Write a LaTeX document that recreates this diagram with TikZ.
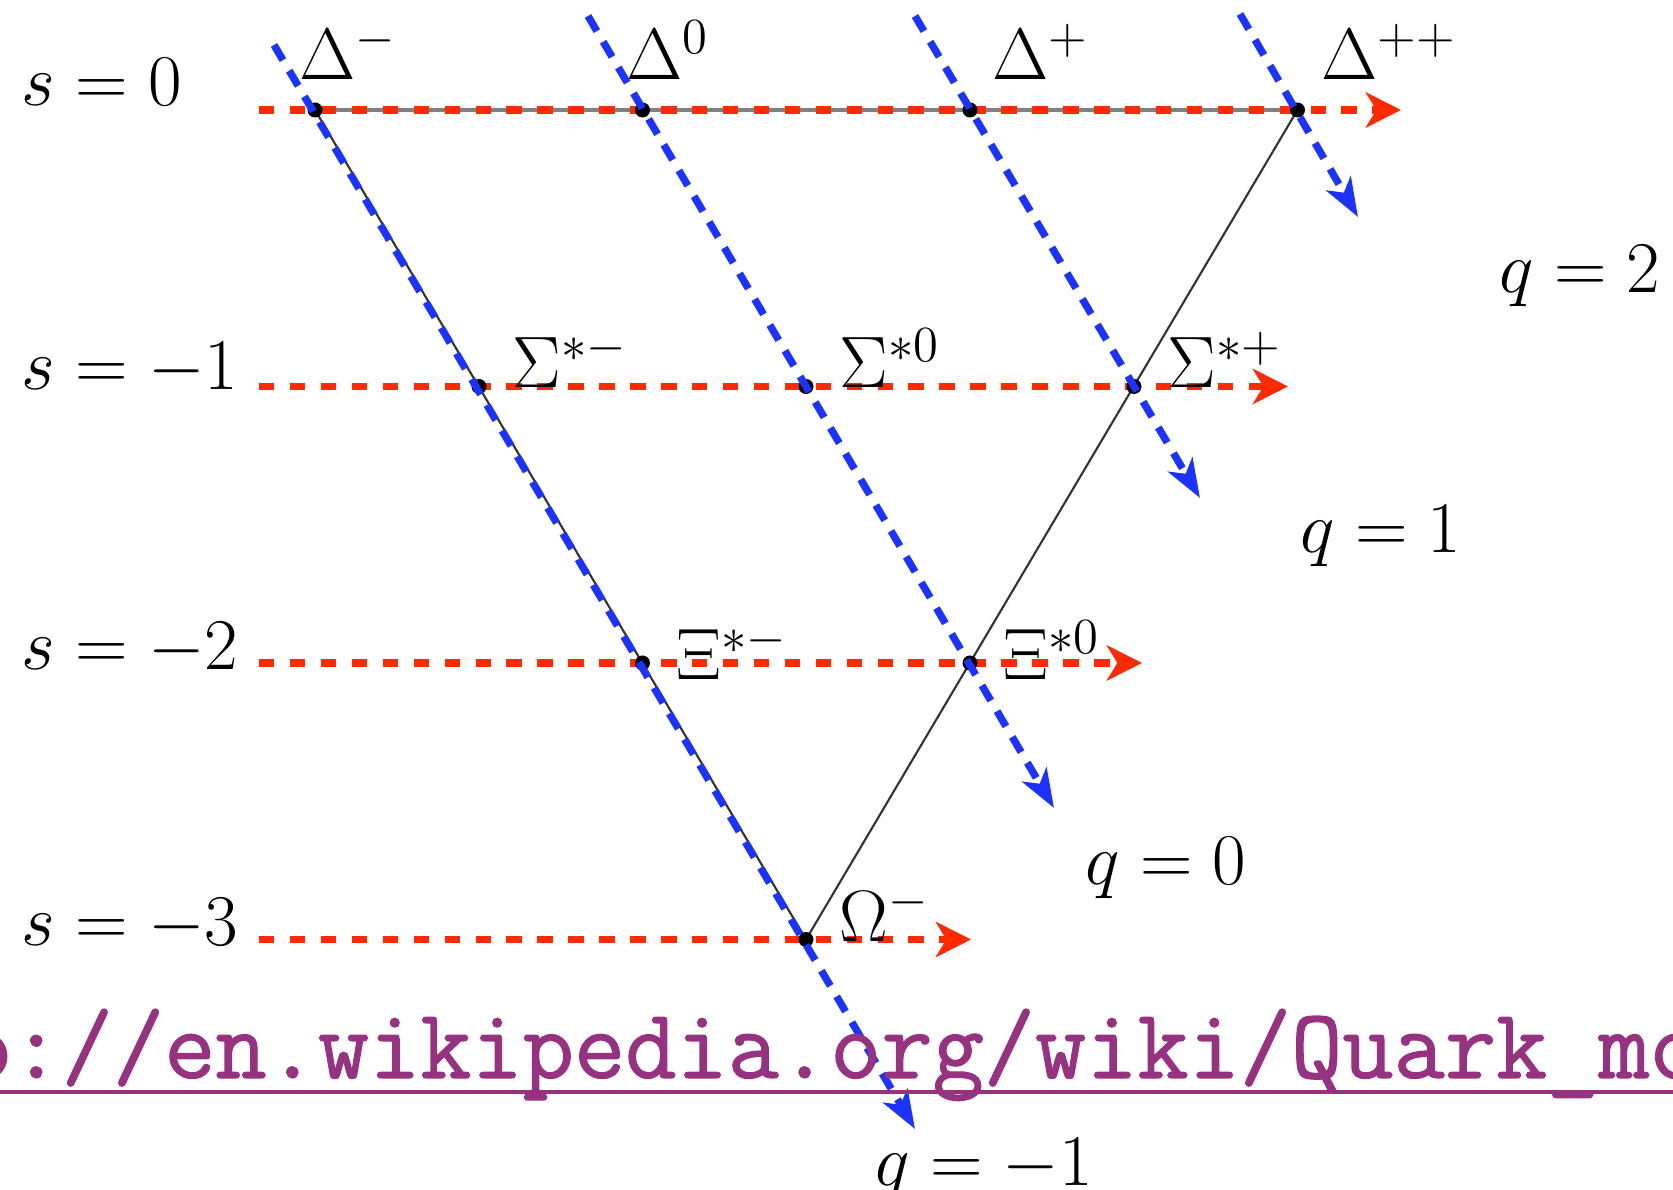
\documentclass[tikz,border=0pt]{standalone}
\usepackage{fontspec}
\usepackage{tikz}
\usepackage{xcolor}
\usetikzlibrary{arrows.meta, calc}
\newfontfamily\linkfont[FakeBold=1.2]{Latin Modern Mono}
\definecolor{Dec_Red}{RGB}{255,42,0}
\definecolor{Dec_Blue}{RGB}{28,50,255}
\definecolor{Dec_Purple}{RGB}{150,50,128}

\begin{document}
\begin{tikzpicture}[
    lbl/.style={inner sep=0pt, anchor=base west, font=\huge},
    sline/.style={Dec_Red, line width=2.2pt, dash pattern=on 4.4pt off 4.4pt,
        -{Stealth[length=10pt, width=10pt, inset=3pt]}},
    qline/.style={Dec_Blue, line width=2.1pt, dash pattern=on 5pt off 3.5pt,
        -{Stealth[length=11pt, width=8pt, inset=3pt]}}
]
    \useasboundingbox (0,0) rectangle (16.73,-11.90);
    \clip (0,0) rectangle (16.73,-11.90);
    % Decuplet positions
    \coordinate (dm) at (3.15,-1.10);
    \coordinate (dz) at (6.425,-1.10);
    \coordinate (dp) at (9.70,-1.10);
    \coordinate (dpp) at (12.975,-1.10);
    \coordinate (sm) at (4.79,-3.865);
    \coordinate (sz) at (8.06,-3.865);
    \coordinate (sp) at (11.34,-3.865);
    \coordinate (xm) at (6.425,-6.63);
    \coordinate (xz) at (9.70,-6.63);
    \coordinate (om) at (8.06,-9.395);
    % Triangle
    \draw[gray, line width=1pt] (dm) -- (dpp);
    \draw[black!80, line width=0.6pt] (dm) -- (om) -- (dpp);
    % Strangeness lines
    \coordinate (s0a) at (2.59,-1.10);   \coordinate (s0b) at (14.01,-1.10);
    \coordinate (s1a) at (2.59,-3.865);  \coordinate (s1b) at (12.88,-3.865);
    \coordinate (s2a) at (2.59,-6.63);   \coordinate (s2b) at (11.42,-6.63);
    \coordinate (s3a) at (2.59,-9.395);  \coordinate (s3b) at (9.71,-9.395);
    \draw[sline] (s0a) -- (s0b);
    \draw[sline] (s1a) -- (s1b);
    \draw[sline] (s2a) -- (s2b);
    \draw[sline] (s3a) -- (s3b);
    % Dots
    \foreach \p in {dm,dz,dp,dpp,sm,sz,sp,xm,xz,om}
        \fill (\p) circle (0.075);
    % Charge lines
    \coordinate (qma) at (2.74,-0.45);   \coordinate (qmb) at (9.15,-11.29);
    \coordinate (q0a) at (5.88,-0.16);   \coordinate (q0b) at (10.54,-8.08);
    \coordinate (q1a) at (9.15,-0.16);   \coordinate (q1b) at (12.00,-4.98);
    \coordinate (q2a) at (12.40,-0.14);  \coordinate (q2b) at (13.58,-2.17);
    \draw[qline] (qma) -- (qmb);
    \draw[qline] (q0a) -- (q0b);
    \draw[qline] (q1a) -- (q1b);
    \draw[qline] (q2a) -- (q2b);
    % Particle labels
    \node[lbl] (ldm) at (2.99,-0.80) {$\Delta^-$};
    \node[lbl] (ldz) at (6.26,-0.80) {$\Delta^0$};
    \node[lbl] (ldp) at (9.92,-0.80) {$\Delta^+$};
    \node[lbl] (ldpp) at (13.21,-0.80) {$\Delta^{++}$};
    \node[lbl] (lsm) at ($(sm)+(0.33,-0.01)$) {$\Sigma^{*-}$};
    \node[lbl] (lsz) at ($(sz)+(0.33,-0.01)$) {$\Sigma^{*0}$};
    \node[lbl] (lsp) at ($(sp)+(0.33,-0.01)$) {$\Sigma^{*+}$};
    \node[lbl] (lxm) at ($(xm)+(0.33,-0.17)$) {$\Xi^{*-}$};
    \node[lbl] (lxz) at ($(xz)+(0.33,-0.17)$) {$\Xi^{*0}$};
    \node[lbl] (lom) at ($(om)+(0.33,-0.02)$) {$\Omega^-$};
    % Strangeness labels
    \node[lbl] (ls0) at (0.21,-1.06) {$s=0$};
    \node[lbl] (ls1) at (0.21,-3.90) {$s=-1$};
    \node[lbl] (ls2) at (0.21,-6.70) {$s=-2$};
    \node[lbl] (ls3) at (0.21,-9.46) {$s=-3$};
    % Charge labels
    \node[lbl] (lq2) at (14.99,-2.93) {$q=2$};
    \node[lbl] (lq1) at (13.00,-5.53) {$q=1$};
    \node[lbl] (lq0) at (10.85,-8.85) {$q=0$};
    \node[lbl] (lqm) at (8.75,-11.86) {$q=-1$};
    % Link
    \node[inner sep=0pt, anchor=base west, text=Dec_Purple,
        font=\linkfont\fontsize{28.3}{30}\selectfont] (url) at (-1.95,-10.78)
        {http://en.wikipedia.org/wiki/Quark\_model};
    \draw[Dec_Purple, line width=1.1pt] ($(url.base west)+(0,-0.14)$) -- ($(url.base east)+(0,-0.14)$);
\end{tikzpicture}
\end{document}
